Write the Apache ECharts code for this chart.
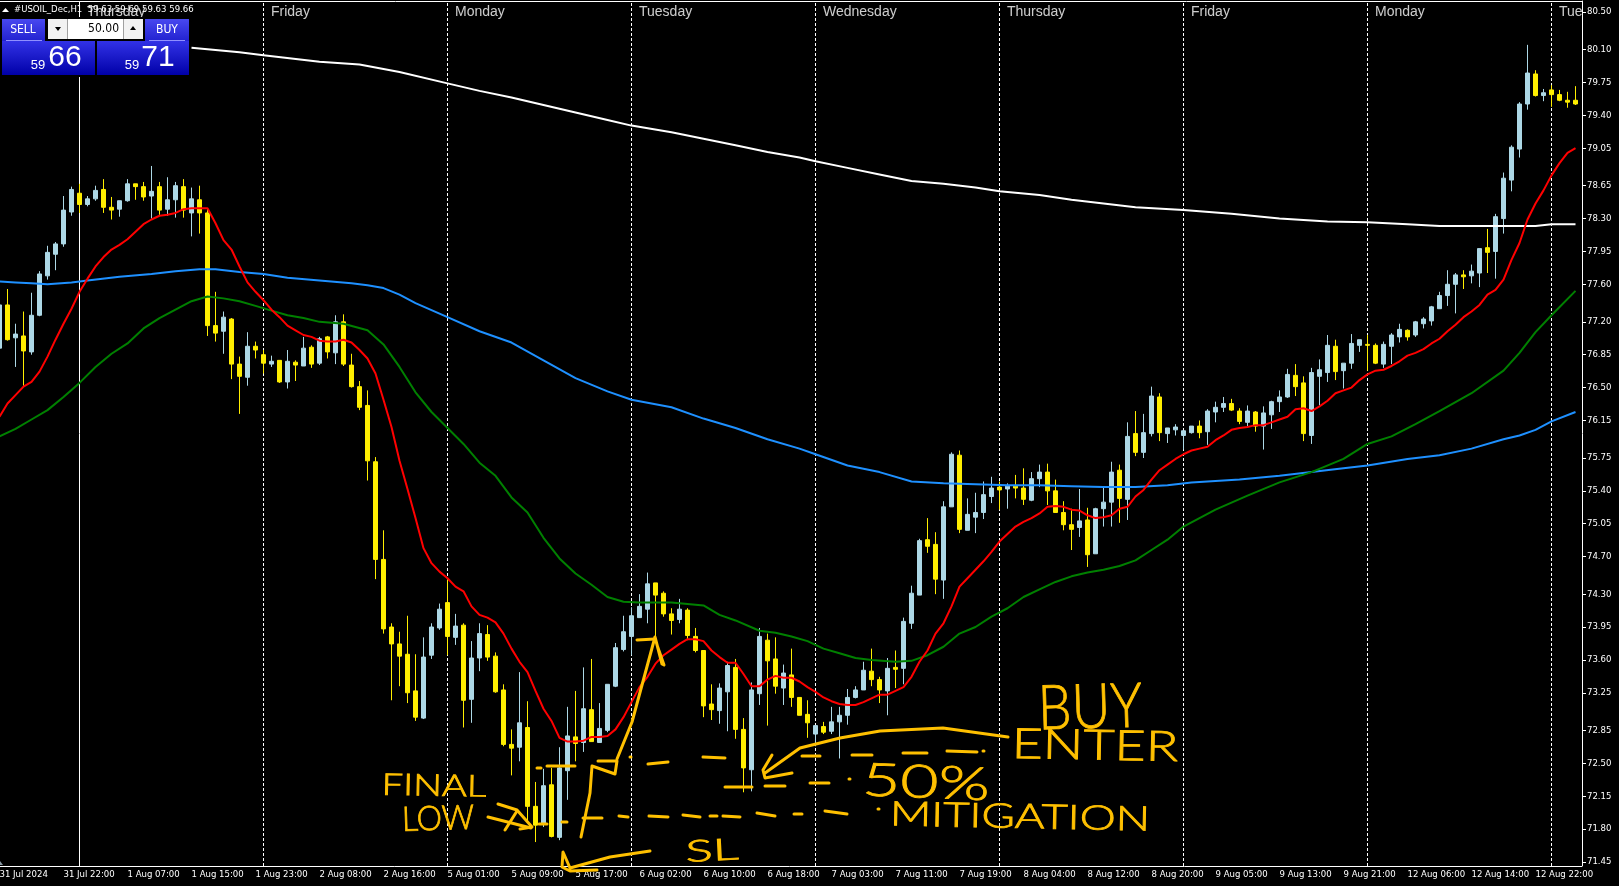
<!DOCTYPE html>
<html>
<head>
<meta charset="utf-8">
<title>USOIL H1</title>
<script src="https://cdn.jsdelivr.net/npm/echarts@6/dist/echarts.min.js"></script>
<style>
html,body{margin:0;padding:0;background:#000;}
#main{width:1619px;height:886px;}
</style>
</head>
<body>
<div id="main"></div>
<script>
// hourly bars
var opens = [
76.92,77.38,77.03,77.05,76.88,77.27,77.69,77.92,78.03,78.37,
78.57,78.45,78.51,78.61,78.42,78.40,78.49,78.67,78.64,78.54,
78.64,78.40,78.50,78.64,78.36,78.50,78.36,77.16,77.10,77.23,
76.75,76.61,76.94,76.85,76.75,76.79,76.56,76.77,76.73,76.93,
76.76,77.04,76.87,77.20,76.74,76.51,76.31,75.71,74.67,73.95,
73.77,73.66,73.27,72.98,73.65,73.94,74.21,73.84,73.97,73.18,
73.62,73.87,73.64,73.28,72.70,72.67,72.88,72.04,71.86,72.27,
71.71,72.42,72.78,72.72,73.07,72.72,72.85,73.32,73.71,73.85,
74.05,74.14,74.42,74.31,74.09,74.03,74.13,73.85,73.70,73.13,
73.06,73.26,73.52,72.86,72.43,73.24,73.81,73.61,73.30,73.44,
73.20,73.02,72.81,72.89,72.84,72.94,73.01,73.20,73.28,73.48,
73.39,73.27,73.52,73.51,73.99,74.29,74.88,74.83,74.45,75.23,
75.78,74.98,75.12,75.17,75.34,75.44,75.42,75.45,75.43,75.30,
75.53,75.60,75.40,75.17,75.04,75.01,75.09,74.73,75.21,75.28,
75.62,75.31,76.01,75.81,76.01,76.40,76.01,76.05,75.99,76.02,
76.09,76.03,76.24,76.29,76.33,76.25,76.13,76.24,76.09,76.21,
76.35,76.40,76.63,76.55,75.99,76.62,76.66,76.94,76.68,76.76,
76.95,76.96,76.95,76.75,76.94,77.04,77.11,77.06,77.18,77.21,
77.34,77.48,77.60,77.70,77.69,77.72,77.99,77.95,78.30,78.71,
79.04,79.52,79.84,79.61,79.67,79.62,79.56,79.56];
var closes = [
77.38,77.01,77.07,76.89,77.27,77.71,77.94,78.03,78.39,78.61,
78.45,78.51,78.60,78.42,78.39,78.49,78.67,78.64,78.53,78.59,
78.39,78.50,78.65,78.39,78.51,78.36,77.16,77.08,77.25,76.75,
76.62,76.94,76.90,76.76,76.78,76.56,76.78,76.74,76.92,76.75,
77.02,76.88,77.20,76.75,76.51,76.29,75.72,74.67,73.93,73.77,
73.64,73.25,72.99,73.63,73.95,74.14,73.85,73.96,73.17,73.62,
73.88,73.63,73.26,72.70,72.66,72.93,72.04,71.84,72.26,71.72,
72.45,72.79,72.71,73.08,72.73,72.87,73.34,73.73,73.90,74.07,
74.17,74.41,74.29,74.09,74.02,74.14,73.86,73.70,73.11,73.07,
73.30,73.54,72.86,72.45,73.28,73.85,73.59,73.32,73.46,73.20,
73.01,72.93,72.90,72.83,72.94,73.01,73.20,73.28,73.49,73.39,
73.28,73.51,73.50,74.01,74.31,74.87,74.81,74.46,75.23,75.79,
74.99,75.15,75.17,75.36,75.43,75.41,75.45,75.43,75.31,75.53,
75.60,75.40,75.17,75.04,74.99,75.08,74.72,75.21,75.28,75.60,
75.32,75.98,75.81,76.02,76.41,76.02,76.07,76.08,76.04,76.09,
76.02,76.25,76.29,76.33,76.26,76.14,76.25,76.09,76.23,76.35,
76.40,76.64,76.51,76.01,76.66,76.69,76.95,76.67,76.76,76.97,
77.01,76.95,76.76,76.96,77.06,77.12,77.04,77.20,77.23,77.36,
77.48,77.60,77.70,77.68,77.74,77.98,77.94,78.32,78.73,79.06,
79.52,79.85,79.61,79.64,79.62,79.56,79.54,79.52];
var lows = [
76.85,77.00,76.72,76.52,76.85,77.26,77.65,77.75,78.00,78.33,
78.36,78.43,78.49,78.36,78.29,78.32,78.48,78.50,78.49,78.30,
78.34,78.33,78.31,78.31,78.11,78.14,77.05,76.99,76.86,76.59,
76.22,76.52,76.81,76.65,76.72,76.55,76.49,76.57,76.73,76.71,
76.74,76.81,76.75,76.73,76.50,76.26,75.51,74.46,73.88,73.17,
73.32,73.14,72.95,72.97,73.61,73.92,73.65,73.76,72.88,72.93,
73.48,73.59,73.25,72.68,72.37,72.52,71.88,71.66,71.82,71.71,
71.68,72.11,72.52,72.62,72.73,72.72,72.83,73.31,73.69,73.65,
74.05,73.99,73.83,74.06,73.87,73.99,73.81,73.68,72.99,72.96,
72.92,72.84,72.76,72.19,72.20,73.12,72.90,73.24,73.12,73.10,
73.01,72.77,72.68,72.81,72.81,72.55,72.91,73.19,73.28,73.32,
73.14,73.01,73.30,73.34,73.93,74.29,74.74,74.30,74.25,75.23,
74.95,74.98,74.95,75.10,75.27,75.20,75.21,75.32,75.25,75.29,
75.44,75.25,75.17,74.98,74.77,74.91,74.59,74.73,75.02,75.02,
75.06,75.09,75.77,75.75,75.98,75.93,75.91,75.99,75.84,76.01,
75.96,75.89,76.13,76.24,76.25,76.11,76.09,76.03,75.84,76.06,
76.24,76.39,76.41,75.93,75.90,76.31,76.56,76.58,76.49,76.70,
76.88,76.68,76.75,76.71,76.75,76.98,77.00,77.04,77.13,77.16,
77.34,77.37,77.29,77.55,77.61,77.57,77.72,77.66,78.14,78.59,
78.95,79.46,79.60,79.55,79.49,79.55,79.48,79.51];
var highs = [
77.50,77.55,77.18,77.31,77.51,77.74,78.01,78.05,78.54,78.64,
78.67,78.54,78.65,78.72,78.53,78.49,78.72,78.67,78.69,78.86,
78.69,78.74,78.69,78.72,78.63,78.65,78.41,77.52,77.31,77.24,
76.83,77.09,76.99,76.90,76.84,76.79,76.90,76.79,77.04,76.95,
77.04,77.05,77.27,77.28,76.86,76.57,76.47,75.76,74.98,73.99,
73.90,74.07,73.66,73.84,73.99,74.20,74.47,74.09,73.99,73.80,
73.99,73.97,73.68,73.34,72.86,73.47,73.16,72.30,72.44,72.45,
72.67,73.10,73.27,73.52,73.61,73.14,73.34,73.78,74.07,74.16,
74.30,74.53,74.42,74.33,74.15,74.25,74.15,73.94,73.70,73.34,
73.35,73.58,73.61,72.98,73.36,73.94,73.88,73.84,73.55,73.72,
73.20,73.17,72.90,72.94,73.10,73.10,73.29,73.32,73.58,73.72,
73.42,73.62,73.70,74.05,74.39,74.89,75.11,74.96,75.29,75.81,
75.83,75.32,75.38,75.50,75.55,75.50,75.48,75.57,75.64,75.60,
75.68,75.69,75.52,75.29,75.21,75.42,75.22,75.22,75.44,75.71,
75.68,76.13,76.25,76.22,76.51,76.44,76.07,76.11,76.04,76.09,
76.15,76.27,76.35,76.40,76.38,76.28,76.31,76.25,76.30,76.36,
76.47,76.70,76.75,76.62,76.71,76.80,77.06,77.01,76.76,77.07,
77.01,77.06,76.97,76.99,77.08,77.18,77.12,77.21,77.25,77.37,
77.52,77.75,77.72,77.75,77.81,77.98,78.19,78.35,78.79,79.08,
79.54,80.15,79.88,79.68,79.72,79.67,79.65,79.71];

// moving averages. red has a value per bar, the slow ones are read every few bars
var maRed = [
76.19,76.33,76.42,76.51,76.56,76.67,76.83,77.01,77.18,77.34,
77.52,77.66,77.79,77.89,77.97,78.02,78.08,78.16,78.24,78.29,
78.33,78.34,78.36,78.40,78.41,78.41,78.41,78.25,78.07,77.97,
77.79,77.62,77.52,77.43,77.33,77.25,77.16,77.11,77.06,77.04,
77.00,76.99,76.99,77.01,76.98,76.90,76.81,76.65,76.37,76.08,
75.72,75.42,75.11,74.79,74.63,74.54,74.47,74.38,74.33,74.17,
74.08,74.05,74.00,73.88,73.72,73.58,73.47,73.27,73.08,72.95,
72.77,72.73,72.73,72.74,72.78,72.78,72.79,72.86,72.99,73.15,
73.31,73.42,73.56,73.65,73.71,73.77,73.82,73.82,73.80,73.70,
73.63,73.57,73.57,73.45,73.32,73.32,73.39,73.43,73.41,73.41,
73.37,73.31,73.26,73.20,73.16,73.13,73.12,73.12,73.15,73.19,
73.23,73.23,73.27,73.31,73.42,73.58,73.70,73.88,73.99,74.17,
74.38,74.47,74.56,74.65,74.75,74.86,74.94,75.02,75.07,75.11,
75.16,75.23,75.24,75.23,75.20,75.19,75.14,75.11,75.12,75.14,
75.21,75.23,75.34,75.41,75.52,75.62,75.68,75.74,75.79,75.83,
75.85,75.87,75.94,75.99,76.05,76.07,76.08,76.10,76.10,76.13,
76.16,76.19,76.27,76.28,76.25,76.30,76.36,76.44,76.47,76.50,
76.58,76.64,76.68,76.69,76.73,76.78,76.84,76.87,76.91,76.97,
77.02,77.10,77.17,77.25,77.31,77.38,77.49,77.54,77.65,77.86,
78.04,78.29,78.46,78.60,78.76,78.89,79.00,79.05];

var greenBars = [0,2,4,6,8,10,12,14,16,18,20,22,24,26,28,30,32,34,36,38,40,43,46,48,50,52,54,56,58,60,62,64,66,68,70,72,74,76,78,80,84,88,90,92,95,97,99,101,103,105,107,109,112,114,116,118,120,122,124,126,128,130,132,134,136,138,140,142,144,146,148,152,156,160,164,168,171,174,177,180,184,188,190,192,194,197];
var maGreen = [75.98,76.06,76.16,76.26,76.40,76.55,76.72,76.86,76.97,77.13,77.24,77.33,77.42,77.47,77.45,77.42,77.37,77.32,77.27,77.24,77.20,77.18,77.11,76.96,76.72,76.45,76.24,76.07,75.90,75.70,75.56,75.33,75.17,74.90,74.68,74.52,74.40,74.27,74.22,74.21,74.21,74.18,74.08,74.02,73.91,73.89,73.85,73.80,73.72,73.67,73.62,73.60,73.58,73.59,73.65,73.74,73.88,73.95,74.06,74.15,74.27,74.35,74.43,74.49,74.53,74.56,74.60,74.66,74.77,74.88,75.02,75.20,75.35,75.49,75.60,75.74,75.90,75.98,76.11,76.25,76.44,76.68,76.87,77.09,77.27,77.53];

var blueBars = [0,2,4,6,9,11,15,19,22,25,27,30,33,36,40,44,46,48,50,52,56,60,64,68,72,76,79,84,88,92,96,100,102,106,110,114,118,122,126,130,134,138,142,146,149,155,160,164,168,171,176,180,184,188,190,192,194,197];
var maBlue = [77.63,77.62,77.61,77.60,77.62,77.64,77.68,77.71,77.74,77.76,77.76,77.73,77.71,77.67,77.64,77.61,77.59,77.56,77.49,77.40,77.25,77.10,76.98,76.79,76.60,76.46,76.37,76.29,76.17,76.07,75.95,75.85,75.79,75.67,75.60,75.50,75.48,75.47,75.46,75.46,75.45,75.44,75.44,75.46,75.49,75.52,75.56,75.60,75.64,75.67,75.74,75.78,75.85,75.95,75.99,76.05,76.14,76.24];

var whiteBars = [24,30,33,40,45,50,56,60,64,68,72,76,79,84,88,92,96,100,102,106,110,114,118,122,125,130,134,138,142,148,154,160,166,171,176,180,186,190,192,194,197];
var maWhite = [80.12,80.07,80.04,79.97,79.94,79.86,79.74,79.66,79.59,79.51,79.43,79.35,79.29,79.22,79.15,79.08,79.01,78.95,78.91,78.84,78.77,78.70,78.67,78.63,78.59,78.55,78.50,78.46,78.42,78.39,78.35,78.30,78.27,78.26,78.24,78.22,78.22,78.22,78.22,78.24,78.24];

var timeLabels = ['31 Jul 2024','31 Jul 22:00','1 Aug 07:00','1 Aug 15:00','1 Aug 23:00','2 Aug 08:00','2 Aug 16:00','5 Aug 01:00','5 Aug 09:00','5 Aug 17:00','6 Aug 02:00','6 Aug 10:00','6 Aug 18:00','7 Aug 03:00','7 Aug 11:00','7 Aug 19:00','8 Aug 04:00','8 Aug 12:00','8 Aug 20:00','9 Aug 05:00','9 Aug 13:00','9 Aug 21:00','12 Aug 06:00','12 Aug 14:00','12 Aug 22:00'];
var priceTicks = [80.50,80.10,79.75,79.40,79.05,78.65,78.30,77.95,77.60,77.20,76.85,76.50,76.15,75.75,75.40,75.05,74.70,74.30,73.95,73.60,73.25,72.85,72.50,72.15,71.80,71.45];
var dayBars = [10,33,56,79,102,125,148,171,194];
var dayNames = ['Thursday','Friday','Monday','Tuesday','Wednesday','Thursday','Friday','Monday','Tue'];

var NARROW = '"DejaVu Sans Condensed","Liberation Sans",sans-serif';
var SANS = '"Liberation Sans",sans-serif';
var INK = '#FFC000';

var categories = [], bars = [];
for (var i = 0; i < opens.length; i++) {
	categories.push(i % 8 === 0 ? timeLabels[i / 8] : String(i));
	bars.push([opens[i], closes[i], lows[i], highs[i]]);
}

// slow averages only have some bars filled, the rest is null and gets connected
function sparse(idx, vals) {
	var out = [];
	for (var j = 0; j < opens.length; j++) out.push(null);
	idx.forEach(function (b, n) { out[b] = vals[n]; });
	return out;
}

function maSeries(name, data, color) {
	return {
		name: name, type: 'line', data: data, connectNulls: true,
		showSymbol: false, symbol: 'none', smooth: false, silent: true,
		lineStyle: { color: color, width: 2 }, z: 5
	};
}

// separators are dashed, the first one sits under the crosshair and is solid
var separators = dayBars.map(function (b, n) {
	return {
		xAxis: b,
		lineStyle: { color: '#fff', width: 1, type: n === 0 ? 'solid' : [3, 2] }
	};
});

// hand drawn marks on top of the chart
var strokes = [
	// arrow into the final low
	[[488,817],[531,828]],
	[[498,804],[517,810],[532,827],[520,829]],
	[[517,811],[505,830]],
	// the swing up with its little flag
	[[581,837],[590,793],[592,766],[615,774],[617,761],[598,761]],
	[[617,759],[632,722],[655,637],[662,664],[664,665],[657,645]],
	[[637,640],[655,639]],
	// enter line
	[[537,768],[541,768]],[[547,766],[575,766]],[[630,757],[631,757]],[[648,764],[668,762]],[[703,757],[725,758]],
	[[802,756],[820,756]],[[852,755],[872,755]],[[903,753],[927,753]],[[947,751],[977,752]],[[983,751],[984,751]],
	// 50% line
	[[725,787],[752,787]],[[765,786],[785,786]],[[810,783],[829,783]],[[849,779],[850,779]],
	// mitigation line
	[[539,824],[547,824]],[[562,822],[567,822]],[[583,818],[602,818]],[[619,816],[628,817]],[[649,816],[668,817]],
	[[683,815],[700,817]],[[710,816],[717,816]],[[723,816],[740,817]],[[757,813],[775,816]],[[794,814],[802,814]],
	[[825,811],[847,814]],[[878,809],[879,809]],
	// arrow from ENTER back to the line
	[[1008,737],[943,728],[880,731],[840,738],[800,748],[765,773]],
	[[772,755],[763,770],[765,778],[792,773]],
	// SL arrow
	[[650,851],[610,857],[570,868],[563,852],[562,867],[570,871],[597,870]]
];

// word, centre x, centre y, size, stretch, turn
var notes = [
	['FINAL', 434, 786, 30, 1.27, -0.02],
	['LOW', 438, 819, 34, 0.94, 0.03],
	['SL', 712, 851, 30, 1.7, 0.05],
	['BUY', 1090, 708, 62, 0.86, 0.03],
	['ENTER', 1095, 746, 42, 1.28, -0.02],
	['50%', 926, 783, 46, 1.43, -0.04],
	['MITIGATION', 1020, 817, 34, 1.34, -0.02]
];

var gfx = [];
function box(x, y, w, h, top, bottom) {
	gfx.push({
		type: 'rect', shape: { x: x, y: y, width: w, height: h }, z: 20,
		style: { fill: bottom ? new echarts.graphic.LinearGradient(0, 0, 0, 1, [{ offset: 0, color: top }, { offset: 1, color: bottom }]) : top }
	});
}
function label(text, x, y, size, fill, align, font) {
	gfx.push({
		type: 'text', x: x, y: y, z: 21,
		style: { text: text, fill: fill, fontSize: size, fontFamily: font || SANS, textAlign: align || 'left', textVerticalAlign: 'middle' }
	});
}

// chart frame, the axis only reaches 1579 so the rest is added here
gfx.push({ type: 'line', shape: { x1: 0, y1: 1.5, x2: 1582, y2: 1.5 }, z: 10, style: { stroke: '#fff', lineWidth: 1 } });
gfx.push({ type: 'line', shape: { x1: 1578, y1: 866.5, x2: 1582, y2: 866.5 }, z: 10, style: { stroke: '#fff', lineWidth: 1 } });
gfx.push({ type: 'polygon', shape: { points: [[0, 861], [3, 865], [0, 865]] }, z: 10, style: { fill: '#8a9aa5' } });

// one click panel
box(0, 17, 191, 60, '#000');
box(2, 19, 43, 22, '#4848F0', '#2222D0');
box(145, 19, 44, 22, '#4848F0', '#2222D0');
box(48, 19, 95, 20, '#fff');
box(48, 19, 19, 20, '#f2f2f2');
box(124, 19, 19, 20, '#f2f2f2');
box(67, 19, 1, 20, '#a0a0a0');
box(123, 19, 1, 20, '#a0a0a0');
box(6, 40, 36, 1, '#9090ff');
box(149, 40, 36, 1, '#9090ff');
box(2, 41, 93, 34, '#3232E6', '#0000A8');
box(97, 41, 92, 34, '#3232E6', '#0000A8');
gfx.push({ type: 'polygon', shape: { points: [[55, 27], [61, 27], [58, 31]] }, z: 21, style: { fill: '#000' } });
gfx.push({ type: 'polygon', shape: { points: [[130, 30], [136, 30], [133, 26]] }, z: 21, style: { fill: '#000' } });
gfx.push({ type: 'polygon', shape: { points: [[2, 12], [9, 12], [5.5, 8]] }, z: 21, style: { fill: '#fff' } });
label('SELL', 23, 30, 12, '#fff', 'center', NARROW);
label('50.00', 119, 29, 12, '#000', 'right', NARROW);
label('BUY', 167, 30, 12, '#fff', 'center', NARROW);
label('59', 38, 65, 13, '#fff', 'center');
label('66', 65, 58, 30, '#fff', 'center');
label('59', 132, 65, 13, '#fff', 'center');
label('71', 158, 58, 30, '#fff', 'center');
label('#USOIL_Dec,H1  59.63 59.69 59.63 59.66', 14, 9.5, 9.5, '#fff', 'left', NARROW);

strokes.forEach(function (pts) {
	gfx.push({
		type: 'polyline', shape: { points: pts }, z: 30,
		style: { stroke: INK, lineWidth: 3, fill: null, lineCap: 'round', lineJoin: 'round' }
	});
});
notes.forEach(function (n) {
	gfx.push({
		type: 'text', x: n[1], y: n[2], scaleX: n[4], rotation: n[5], z: 31,
		style: { text: n[0], fill: INK, stroke: INK, lineWidth: 0.8, fontSize: n[3], fontFamily: '"Lato","Liberation Sans",sans-serif', fontWeight: 300, textAlign: 'center', textVerticalAlign: 'middle' }
	});
});

var series = [
	{
		name: 'USOIL', type: 'candlestick', data: bars, barWidth: 5, z: 3, silent: true,
		itemStyle: { color: '#ADD8E6', color0: '#FFEE00', borderColor: '#ADD8E6', borderColor0: '#FFEE00', borderWidth: 1 },
		markLine: { silent: true, symbol: 'none', animation: false, label: { show: false }, z: 2, data: separators }
	},
	maSeries('MA white', sparse(whiteBars, maWhite), '#FFFFFF'),
	maSeries('MA blue', sparse(blueBars, maBlue), '#1E90FF'),
	maSeries('MA green', sparse(greenBars, maGreen), '#008000'),
	maSeries('MA red', maRed, '#FF0000'),
	{
		name: 'days', type: 'scatter', symbolSize: 1, silent: true, z: 6,
		itemStyle: { color: 'transparent' },
		data: dayBars.map(function (b, n) { return { value: [b, 80.50], name: dayNames[n] }; }),
		label: { show: true, position: 'right', distance: 7, color: '#fff', fontSize: 14, fontFamily: SANS, formatter: function (p) { return p.name; } }
	}
];

var option = {
	backgroundColor: '#000',
	animation: false,
	grid: { left: -4.5, top: 1, width: 1584, height: 865, outerBoundsMode: 'none' },
	xAxis: {
		type: 'category', data: categories, boundaryGap: true,
		axisLine: { lineStyle: { color: '#fff', width: 1 } },
		axisTick: { alignWithLabel: true, length: 4, interval: function (i) { return i % 8 === 0; }, lineStyle: { color: '#fff' } },
		axisLabel: { interval: function (i) { return i % 8 === 0; }, align: 'left', margin: 4, color: '#fff', fontSize: 9.5, fontFamily: NARROW, hideOverlap: false },
		splitLine: { show: false }
	},
	yAxis: {
		type: 'value', position: 'right', offset: 2.5, min: 71.405, max: 80.617, scale: true,
		axisLine: { show: true, lineStyle: { color: '#fff', width: 1 } },
		axisTick: { show: true, length: 4, customValues: priceTicks, lineStyle: { color: '#fff' } },
		axisLabel: { customValues: priceTicks, margin: 5, color: '#fff', fontSize: 9.5, fontFamily: NARROW, formatter: function (v) { return v.toFixed(2); } },
		splitLine: { show: false }
	},
	series: series,
	graphic: { elements: gfx }
};

var chart = echarts.init(document.getElementById('main'));
chart.setOption(option);
</script>
</body>
</html>
